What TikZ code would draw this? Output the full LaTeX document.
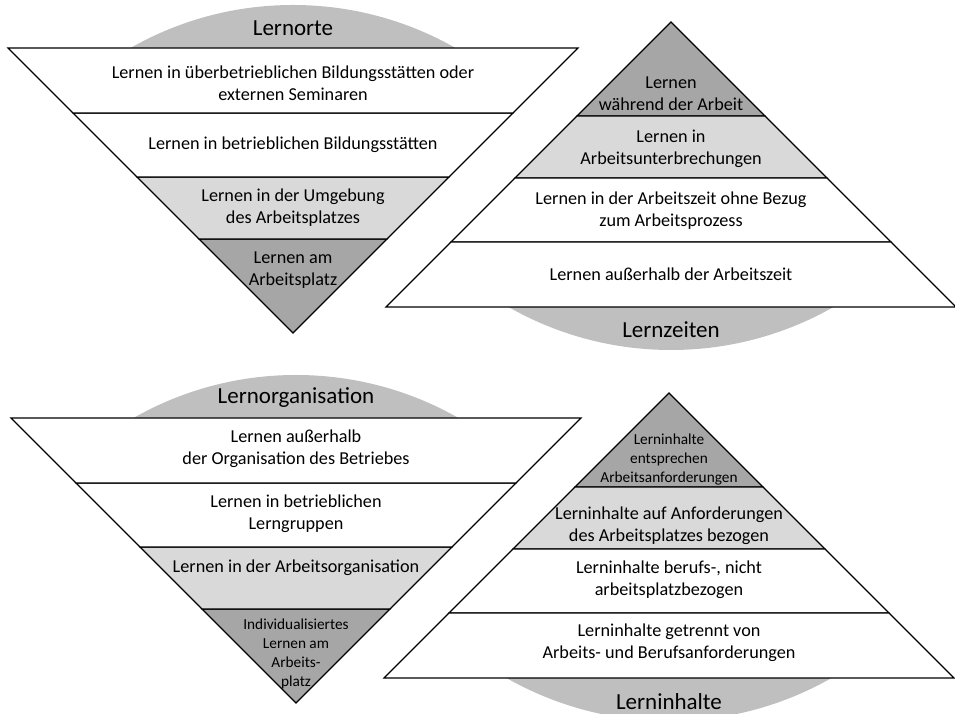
\documentclass[tikz,border=0pt]{standalone}
\usepackage{fontspec}
\setmainfont{Carlito}
\definecolor{kappegrau}{HTML}{BFBFBF}
\definecolor{dunkelgrau}{HTML}{A6A6A6}
\definecolor{hellgrau}{HTML}{D9D9D9}
\tikzset{
  stufe/.style={draw=black, line width=1.1pt, line join=miter},
  kappe/.style={fill=kappegrau},
  text18/.style={font=\fontsize{18.2}{22}\selectfont, align=center, inner sep=0pt},
  text15/.style={font=\fontsize{15.3}{19}\selectfont, align=center, inner sep=0pt},
  titel/.style={font=\fontsize{23}{28}\selectfont, inner sep=0pt},
}
% one pyramid, apex at the origin, bands going down
\newcommand{\lernpyramide}{%
  \begin{scope}
    \clip (-400,-285) rectangle (400,-440);
    \fill[kappe] (0,0) circle (328);
  \end{scope}
  \filldraw[stufe, fill=dunkelgrau] (0,0) -- (-94,-94) -- (94,-94) -- cycle;
  \filldraw[stufe, fill=hellgrau] (-94,-94) -- (-156,-156) -- (156,-156) -- (94,-94) -- cycle;
  \filldraw[stufe, fill=white] (-156,-156) -- (-220,-220) -- (220,-220) -- (156,-156) -- cycle;
  \filldraw[stufe, fill=white] (-220,-220) -- (-285,-285) -- (285,-285) -- (220,-220) -- cycle;
}
\begin{document}
\begin{tikzpicture}[x=1pt, y=1pt]

  \useasboundingbox (0,0) rectangle (955,714);

  % -- Lernorte (upside down) --
  \begin{scope}[shift={(293,381)}, yscale=-1]
    \lernpyramide
  \end{scope}
  \node[titel] (orte) at (293,686) {Lernorte};
  \node[text18] (ort1) at (293,631) {Lernen in überbetrieblichen Bildungsstätten oder\\externen Seminaren};
  \node[text18] (ort2) at (293,569) {Lernen in betrieblichen Bildungsstätten};
  \node[text18] (ort3) at (293,506) {Lernen in der Umgebung\\des Arbeitsplatzes};
  \node[text18] (ort4) at (293,444) {Lernen am\\Arbeitsplatz};

  % -- Lernzeiten --
  \begin{scope}[shift={(671,692)}]
    \lernpyramide
  \end{scope}
  \node[text18] (zeit1) at (671,620) {Lernen\\während der Arbeit};
  \node[text18] (zeit2) at (671,565) {Lernen in\\Arbeitsunterbrechungen};
  \node[text18] (zeit3) at (671,503) {Lernen in der Arbeitszeit ohne Bezug\\zum Arbeitsprozess};
  \node[text18] (zeit4) at (671,440) {Lernen außerhalb der Arbeitszeit};
  \node[titel] (zeiten) at (671,384) {Lernzeiten};

  % -- Lernorganisation (upside down) --
  \begin{scope}[shift={(296,11)}, yscale=-1]
    \lernpyramide
  \end{scope}
  \node[titel] (organisation) at (296,316) {Lernorganisation};
  \node[text18] (org1) at (296,265) {Lernen außerhalb\\der Organisation des Betriebes};
  \node[text18] (org2) at (296,200) {Lernen in betrieblichen\\Lerngruppen};
  \node[text18] (org3) at (296,146) {Lernen in der Arbeitsorganisation};
  \node[text15] (org4) at (296,60) {Individualisiertes\\Lernen am\\Arbeits-\\platz};

  % -- Lerninhalte --
  \begin{scope}[shift={(669,321)}]
    \lernpyramide
  \end{scope}
  \node[text15] (inhalt1) at (669,254) {Lerninhalte\\entsprechen\\Arbeitsanforderungen};
  \node[text18] (inhalt2) at (669,188) {Lerninhalte auf Anforderungen\\des Arbeitsplatzes bezogen};
  \node[text18] (inhalt3) at (669,134) {Lerninhalte berufs-, nicht\\arbeitsplatzbezogen};
  \node[text18] (inhalt4) at (669,71) {Lerninhalte getrennt von\\Arbeits- und Berufsanforderungen};
  \node[titel] (inhalte) at (669,12) {Lerninhalte};

\end{tikzpicture}
\end{document}
